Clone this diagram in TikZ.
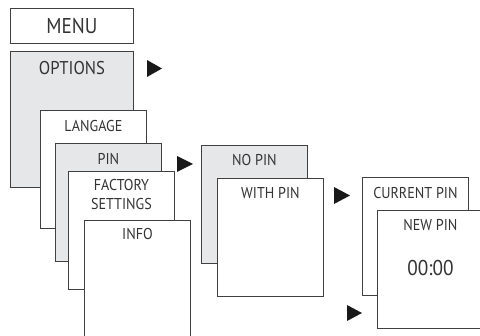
\documentclass[tikz,border=0pt]{standalone}
\usepackage{fontspec}
\setmainfont[FakeStretch=0.9]{PT Sans}
\usetikzlibrary{positioning}
\definecolor{panelgray}{RGB}{230,231,233}
\definecolor{inkgray}{RGB}{51,51,51}
\tikzset{
  panel/.style={draw=black!75, line width=0.9pt, fill=white, inner sep=0pt,
    minimum width=106pt, minimum height=118pt, anchor=north west},
  grey panel/.style={panel, fill=panelgray},
  lbl/.style={inner sep=0pt, text=inkgray, font=\fontsize{15.7}{19}\selectfont, align=center},
  tipfill/.style={fill=black!90}
}
\begin{document}
\begin{tikzpicture}[x=1pt,y=-1pt]
\useasboundingbox (0,0) rectangle (480,336);
\clip (0,0) rectangle (480,336);

% menu column
\node[panel, minimum width=123pt, minimum height=35pt] (menu) at (10,8) {};
\node[lbl, font=\fontsize{21.4}{24}\selectfont] (menutxt) at (menu.center) {MENU};
\node[grey panel, minimum width=123pt, minimum height=136pt] (options) at (10,51) {};
\node[lbl, font=\fontsize{18.5}{22}\selectfont, below=10pt of options.north] (optionstxt) {OPTIONS};

% options stack
\node[panel] (lang) at (40,110) {};
\node[lbl, below=10pt of lang.north] (langtxt) {LANGAGE};
\node[grey panel] (pin) at (55,143) {};
\node[lbl, below=10pt of pin.north] (pintxt) {PIN};
\node[panel] (factory) at (68,171) {};
\node[lbl, below=8pt of factory.north] (factorytxt) {FACTORY\\SETTINGS};
\node[panel] (info) at (84,220) {};
\node[lbl, below=8pt of info.north] (infotxt) {INFO};

% pin stack
\node[grey panel] (nopin) at (201,145) {};
\node[lbl, below=9pt of nopin.north] (nopintxt) {NO PIN};
\node[panel] (withpin) at (217,178) {};
\node[lbl, below=9pt of withpin.north] (withpintxt) {WITH PIN};

% new pin stack
\node[panel] (curpin) at (362,177) {};
\node[lbl, below=10pt of curpin.north] (curpintxt) {CURRENT PIN};
\node[panel] (newpin) at (377,210) {};
\node[lbl, below=9pt of newpin.north] (newpintxt) {NEW PIN};
\node[lbl, font=\fontsize{21.4}{24}\selectfont, below=50pt of newpin.north] (clocktxt) {00:00};

% arrow marks
\fill[tipfill] (147,60) -- (147,77) -- (162,68.5) -- cycle;
\fill[tipfill] (177,156) -- (177,172) -- (193,164) -- cycle;
\fill[tipfill] (334,187) -- (334,204) -- (350,195.5) -- cycle;
\fill[tipfill] (347,305) -- (347,321) -- (362,313) -- cycle;
\end{tikzpicture}
\end{document}
